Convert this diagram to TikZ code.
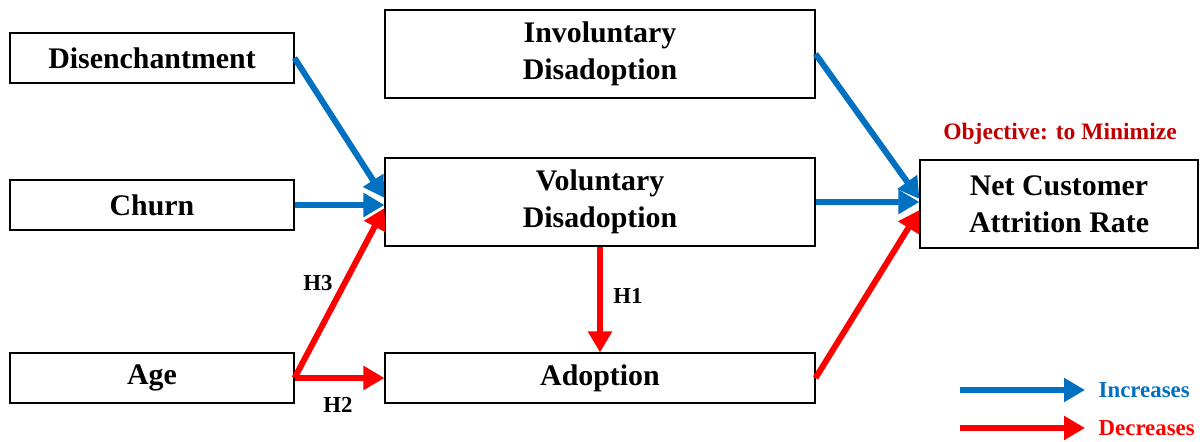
\documentclass[tikz,border=0pt]{standalone}
\usepackage{fontspec}
\setmainfont{Liberation Serif}
\usepackage{tikz}
\usetikzlibrary{arrows.meta}
\definecolor{incblue}{HTML}{0070C0}
\definecolor{decred}{HTML}{FF0000}
\definecolor{objred}{HTML}{C00000}
\tikzstyle{box} = [draw, line width=0.6pt, align=center, inner sep=0pt, font=\fontsize{17}{21}\selectfont\bfseries]
\tikzstyle{smallbox} = [box, minimum width=5.68cm, minimum height=1cm]
\tikzstyle{bigbox} = [box, minimum width=8.6cm, minimum height=1.76cm]
\tikzstyle{inc} = [incblue, line width=0.12cm, -{Triangle[length=0.42cm,width=0.46cm]}]
\tikzstyle{dec} = [decred, line width=0.12cm, -{Triangle[length=0.42cm,width=0.46cm]}]
\tikzstyle{hyp} = [font=\fontsize{13}{15}\selectfont\bfseries]
\tikzstyle{legend} = [font=\fontsize{13}{15}\selectfont\bfseries]

\begin{document}
\begin{tikzpicture}
			\useasboundingbox (0,0) rectangle (24,8.84);
			\node[smallbox] (dis) at (3.04,7.68) {Disenchantment};
			\node[smallbox] (churn) at (3.04,4.74) {Churn};
			\node[smallbox] (age) at (3.04,1.28) {Age};
			\node[bigbox] (invol) at (12,7.76) {Involuntary\\Disadoption};
			\node[bigbox] (vol) at (12,4.8) {Voluntary\\Disadoption};
			\node[smallbox, minimum width=8.6cm] (adop) at (12,1.28) {Adoption};
			\node[box, minimum width=5.56cm, minimum height=1.76cm] (net) at (21.18,4.76) {Net Customer\\Attrition Rate};
			\node[objred, font=\fontsize{13.4}{16}\selectfont\bfseries] (obj) at (21.2,6.16) {Objective: to Minimize};
			\draw [inc](dis.east) -- ([yshift=0.08cm]vol.west);
			\draw [inc](churn.east) -- (churn.east -| vol.west);
			\draw [dec](age.east) -- ([yshift=-0.12cm]vol.west);
			\draw [dec](age.east) -- (adop.west);
			\draw [dec](vol.south) -- (adop.north);
			\draw [inc](invol.east) -- ([yshift=0.1cm]net.west);
			\draw [inc](vol.east) -- (vol.east -| net.west);
			\draw [dec](adop.east) -- ([yshift=-0.12cm]net.west);
			\node[hyp] (h3) at (6.36,3.18) {H3};
			\node[hyp] (h2) at (6.76,0.74) {H2};
			\node[hyp] (h1) at (12.56,2.92) {H1};
			% legend
			\coordinate (incs) at (19.2,1.04);
			\coordinate (ince) at (21.7,1.04);
			\coordinate (decs) at (19.2,0.28);
			\coordinate (dece) at (21.7,0.28);
			\draw [inc](incs) -- (ince);
			\draw [dec](decs) -- (dece);
			\node[legend, incblue, anchor=west] (inctext) at (21.85,1.04) {Increases};
			\node[legend, decred, anchor=west] (dectext) at (21.85,0.28) {Decreases};
		\end{tikzpicture}
\end{document}
